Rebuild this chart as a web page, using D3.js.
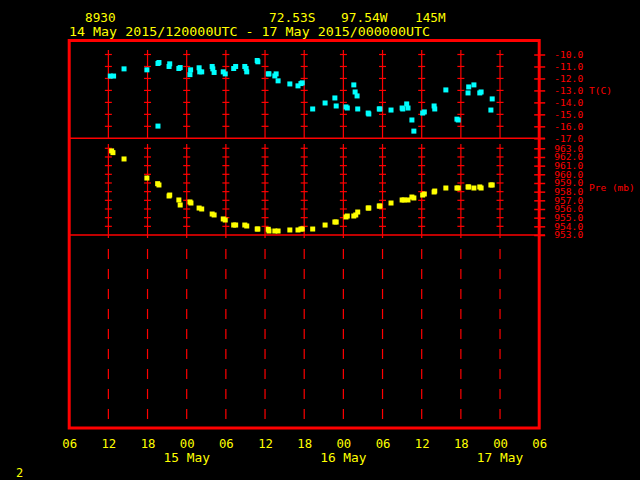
<!DOCTYPE html>
<html>
<head>
<meta charset="utf-8">
<script src="https://cdn.jsdelivr.net/npm/d3@7"></script>
<style>
  html, body { margin: 0; padding: 0; background: #000; }
  svg { display: block; }
  text { font-family: "DejaVu Sans Mono", monospace; }
</style>
</head>
<body>
<script>
// ---- data (hours since 2015-05-14 00:00 UTC) ----
const tempHours = [12.3, 12.8, 14.4, 17.9, 19.6, 19.75, 19.6, 21.3, 21.4, 22.8, 23.0, 24.6, 24.5, 25.9, 26.0, 26.3, 27.9, 28.0, 28.2, 29.6, 29.9, 31.2, 31.5, 32.9, 33.1, 33.2, 34.8, 34.9, 36.5, 36.6, 37.7, 37.5, 38.0, 39.8, 41.05, 41.5, 41.7, 43.3, 45.2, 46.7, 46.9, 48.4, 48.6, 49.6, 49.8, 50.1, 50.2, 51.8, 51.9, 53.5, 53.6, 55.3, 57.0, 57.1, 57.7, 57.9, 58.5, 58.8, 60.15, 60.4, 61.9, 62.0, 63.7, 65.4, 65.6, 67.1, 67.2, 68.0, 68.9, 69.1, 70.6, 70.8];
const tempVals = [-11.8, -11.8, -11.2, -11.28, -10.75, -10.67, -15.98, -11.0, -10.78, -11.17, -11.09, -11.28, -11.68, -11.11, -11.45, -11.45, -11.0, -11.2, -11.5, -11.45, -11.62, -11.17, -11.0, -11.0, -11.17, -11.45, -10.5, -10.61, -11.62, -11.62, -11.62, -11.79, -12.2, -12.46, -12.62, -12.43, -12.37, -14.55, -14.05, -13.63, -14.3, -14.38, -14.47, -12.54, -13.13, -13.46, -14.55, -14.89, -14.97, -14.55, -14.55, -14.64, -14.47, -14.55, -14.13, -14.47, -15.47, -16.4, -14.89, -14.8, -14.3, -14.55, -12.96, -15.4, -15.47, -13.21, -12.71, -12.54, -13.21, -13.13, -14.64, -13.71];
const presHours = [12.5, 12.7, 14.4, 17.9, 19.55, 19.75, 21.3, 21.4, 22.8, 23.0, 24.5, 24.65, 25.9, 26.3, 27.9, 28.2, 29.6, 29.9, 31.2, 31.5, 32.9, 33.2, 34.8, 34.9, 36.5, 36.6, 37.5, 38.0, 39.8, 41.05, 41.5, 41.7, 43.3, 45.2, 46.7, 46.9, 48.4, 48.6, 49.6, 49.9, 50.2, 51.8, 51.9, 53.5, 53.6, 55.3, 57.0, 57.3, 57.9, 58.5, 58.8, 60.15, 60.4, 61.9, 62.0, 63.7, 65.4, 65.6, 67.1, 67.2, 68.0, 68.9, 69.1, 70.6, 70.8];
const presVals = [962.7, 962.5, 961.77, 959.57, 958.92, 958.77, 957.5, 957.61, 957.04, 956.46, 956.81, 956.69, 956.11, 956.0, 955.42, 955.31, 954.85, 954.73, 954.15, 954.15, 954.15, 954.04, 953.69, 953.69, 953.66, 953.46, 953.46, 953.46, 953.58, 953.58, 953.69, 953.69, 953.69, 954.15, 954.5, 954.5, 955.08, 955.19, 955.19, 955.31, 955.65, 956.11, 956.11, 956.34, 956.34, 956.69, 957.04, 957.04, 957.04, 957.38, 957.27, 957.61, 957.73, 957.96, 958.07, 958.42, 958.42, 958.42, 958.54, 958.54, 958.42, 958.54, 958.42, 958.77, 958.77];
const tempTicks = [-10, -11, -12, -13, -14, -15, -16, -17];
const presTicks = [963, 962, 961, 960, 959, 958, 957, 956, 955, 954, 953];
const dateLabels = ["15 May", "16 May", "17 May"];
const headerLine1 = ["8930", "72.53S", "97.54W", "145M"];
const headerLine2 = "14 May 2015/120000UTC - 17 May 2015/000000UTC";
const footer = "2";

const base = Date.UTC(2015, 4, 14, 0);
const H = 3600e3;
const toDate = h => new Date(base + h * H);

const RED = "#ff0000", YEL = "#ffff00", CYAN = "#00ffff";
const CHAR_W = 7.9; // advance of the yellow monospace text

const svg = d3.select("body").append("svg").attr("width", 640).attr("height", 480);
svg.append("rect").attr("width", 640).attr("height", 480).attr("fill", "#000");

const x = d3.scaleUtc().domain([toDate(6), toDate(78)]).range([69.2, 539.2]);
const yT = d3.scaleLinear().domain([-10, -17]).range([54.5, 138.3]);
const yP = d3.scaleLinear().domain([963, 953]).range([148.3, 235]);

const frameTop = 40.5, frameBot = 428;
const gridTimes = d3.utcHour.every(6).range(toDate(12), toDate(72.1));

// ---- grid ----
const g = svg.append("g");
gridTimes.forEach(t => {
  const gx = x(t);
  g.append("line").attr("x1", gx).attr("x2", gx).attr("y1", yT(-9.62)).attr("y2", yT(-17))
    .attr("stroke", RED).attr("stroke-width", 1.2);
  tempTicks.slice(0, 7).forEach(v => {
    g.append("line").attr("x1", gx - 3.5).attr("x2", gx + 3.5).attr("y1", yT(v)).attr("y2", yT(v))
      .attr("stroke", RED).attr("stroke-width", 1.2);
  });
  g.append("line").attr("x1", gx).attr("x2", gx).attr("y1", yP(963.5)).attr("y2", yP(952.65))
    .attr("stroke", RED).attr("stroke-width", 1.2);
  presTicks.slice(0, 10).forEach(v => {
    g.append("line").attr("x1", gx - 3.5).attr("x2", gx + 3.5).attr("y1", yP(v)).attr("y2", yP(v))
      .attr("stroke", RED).attr("stroke-width", 1.2);
  });
  g.append("line").attr("x1", gx).attr("x2", gx).attr("y1", 249).attr("y2", 419)
    .attr("stroke", RED).attr("stroke-width", 1.2).attr("stroke-dasharray", "10,10");
});

// panel dividers
svg.append("line").attr("x1", 69.2).attr("x2", 545).attr("y1", yT(-17)).attr("y2", yT(-17))
  .attr("stroke", RED).attr("stroke-width", 1.5);
svg.append("line").attr("x1", 69.2).attr("x2", 545).attr("y1", yP(953)).attr("y2", yP(953))
  .attr("stroke", RED).attr("stroke-width", 1.5);

// ---- right axes ----
function styleAxis(sel) {
  sel.select(".domain").remove();
  sel.selectAll(".tick line").attr("x1", -5).attr("stroke", RED).attr("stroke-width", 1.5);
  sel.selectAll(".tick text").attr("fill", RED).attr("font-size", "9px")
    .attr("font-family", "DejaVu Sans Mono, monospace")
    .attr("textLength", 29).attr("lengthAdjust", "spacingAndGlyphs");
}
const fmt = v => d3.format(".1f")(v).replace("\u2212", "-");
svg.append("g").attr("transform", "translate(539.2,0)")
  .call(d3.axisRight(yT).tickValues(tempTicks).tickSize(6).tickPadding(9).tickFormat(fmt))
  .call(styleAxis);
svg.append("g").attr("transform", "translate(539.2,0)")
  .call(d3.axisRight(yP).tickValues(presTicks).tickSize(6).tickPadding(9).tickFormat(fmt))
  .call(styleAxis);

svg.append("text").attr("x", 589).attr("y", yT(-13)).attr("dy", "0.35em")
  .attr("fill", RED).attr("font-size", "9.5px").text("T(C)");
svg.append("text").attr("x", 589).attr("y", yP(958.5)).attr("dy", "0.35em")
  .attr("fill", RED).attr("font-size", "9.5px").text("Pre (mb)");

// ---- data markers ----
const tData = tempHours.map((h, i) => ({ t: toDate(h), v: tempVals[i] }));
const pData = presHours.map((h, i) => ({ t: toDate(h), v: presVals[i] }));
svg.append("g").selectAll("rect").data(tData).join("rect")
  .attr("x", d => x(d.t) - 2.5).attr("y", d => yT(d.v) - 2.5)
  .attr("width", 5).attr("height", 5).attr("fill", CYAN);
svg.append("g").selectAll("rect").data(pData).join("rect")
  .attr("x", d => x(d.t) - 2.5).attr("y", d => yP(d.v) - 2.5)
  .attr("width", 5).attr("height", 5).attr("fill", YEL);

// ---- frame ----
svg.append("rect").attr("x", 69.2).attr("y", frameTop).attr("width", 539.2 - 69.2).attr("height", frameBot - frameTop)
  .attr("fill", "none").attr("stroke", RED).attr("stroke-width", 3);

// ---- bottom axis ----
const xAxisG = svg.append("g").attr("transform", "translate(0,447.5)")
  .call(d3.axisBottom(x).ticks(d3.utcHour.every(6)).tickSize(0).tickFormat(d3.utcFormat("%H")));
xAxisG.select(".domain").remove();
xAxisG.selectAll("text").attr("y", 0).attr("dy", 0).attr("fill", YEL)
  .attr("font-size", "12px").attr("font-family", "DejaVu Sans Mono, monospace")
  .attr("textLength", 2 * CHAR_W - 1).attr("lengthAdjust", "spacingAndGlyphs");

const dateTimes = [toDate(24), toDate(48), toDate(72)];
svg.append("g").selectAll("text").data(dateLabels).join("text")
  .attr("x", (d, i) => x(dateTimes[i])).attr("y", 461.5).attr("text-anchor", "middle")
  .attr("fill", YEL).attr("font-size", "12px")
  .attr("textLength", d => d.length * CHAR_W - 1).attr("lengthAdjust", "spacingAndGlyphs")
  .text(d => d);

// ---- header ----
const hx = [85, 269, 341, 415];
svg.append("g").selectAll("text").data(headerLine1).join("text")
  .attr("x", (d, i) => hx[i]).attr("y", 22).attr("fill", YEL).attr("font-size", "12px")
  .attr("textLength", d => d.length * CHAR_W - 1).attr("lengthAdjust", "spacingAndGlyphs")
  .text(d => d);
svg.append("text").attr("x", 69).attr("y", 36).attr("fill", YEL).attr("font-size", "12px")
  .attr("textLength", 361).attr("lengthAdjust", "spacingAndGlyphs").text(headerLine2);
svg.append("text").attr("x", 16).attr("y", 477).attr("fill", YEL).attr("font-size", "12px").text(footer);
</script>
</body>
</html>
